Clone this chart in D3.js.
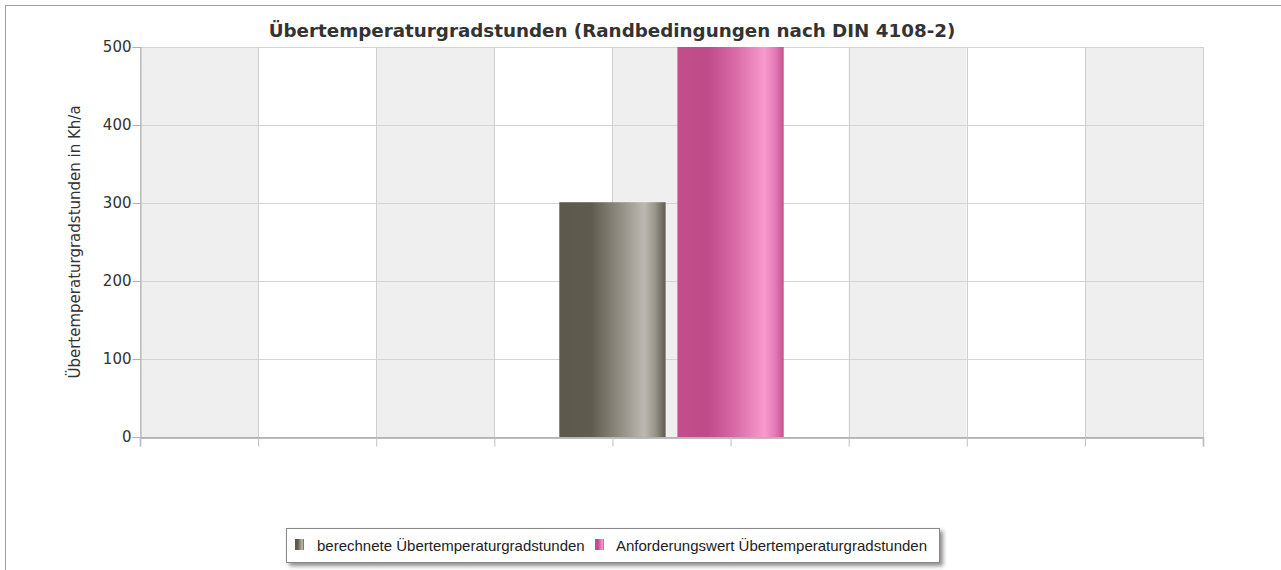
<!DOCTYPE html>
<html><head><meta charset="utf-8">
<script src="https://cdn.jsdelivr.net/npm/d3@7"></script>
<style>html,body{margin:0;padding:0;background:#fff;}svg{display:block;}</style>
</head><body>
<svg id="c" width="1281" height="570"></svg>
<script>
const title = "Übertemperaturgradstunden (Randbedingungen nach DIN 4108-2)";
const yAxisTitle = "Übertemperaturgradstunden in Kh/a";
const xTicks = [0,1,2,3,4,5,6,7,8,9];
const yTicks = [0,100,200,300,400,500];
const seriesNames = ["berechnete Übertemperaturgradstunden","Anforderungswert Übertemperaturgradstunden"];
const seriesX = [4,5];
const seriesValues = [301,500];

const svg = d3.select("#c");
const W=1281,H=570;
const m={l:140,r:78,t:47,b:133};
const x=d3.scaleLinear().domain([0,9]).range([m.l,W-m.r]);
const y=d3.scaleLinear().domain([0,500]).range([H-m.b,m.t]);

const defs=svg.append("defs");
const grads=[
 {id:"g0",stops:[[0,"#5c584b"],[0.3,"#5f5b4e"],[0.55,"#8d897e"],[0.8,"#bdb9b1"],[0.9,"#9a968c"],[1,"#5f5b4e"]]},
 {id:"g1",stops:[[0,"#c24f8c"],[0.28,"#bf4a89"],[0.55,"#d96ba8"],[0.82,"#f99acd"],[0.92,"#e37ab5"],[1,"#c9508f"]]}
];
grads.forEach(g=>{
  const lg=defs.append("linearGradient").attr("id",g.id).attr("x1","0").attr("x2","1").attr("y1","0").attr("y2","0");
  g.stops.forEach(s=>lg.append("stop").attr("offset",s[0]).attr("stop-color",s[1]));
});
const f=defs.append("filter").attr("id","sh").attr("x","-10%").attr("y","-30%").attr("width","130%").attr("height","180%");
f.append("feDropShadow").attr("dx",3).attr("dy",3).attr("stdDeviation",2).attr("flood-color","#000").attr("flood-opacity",0.45);

// outer border
svg.append("line").attr("x1",5.5).attr("x2",5.5).attr("y1",5).attr("y2",H).attr("stroke","#a0a0a0");
svg.append("line").attr("x1",5).attr("x2",W).attr("y1",5.5).attr("y2",5.5).attr("stroke","#a0a0a0");

// alternating bands
svg.append("g").selectAll("rect").data(xTicks.slice(0,-1)).join("rect")
 .attr("x",d=>x(d)).attr("width",d=>x(d+1)-x(d))
 .attr("y",y(500)).attr("height",y(0)-y(500))
 .attr("fill",(d,i)=>i%2===0?"#efefef":"#ffffff");

// grid
svg.append("g").selectAll("line").data(yTicks).join("line")
 .attr("x1",x(0)).attr("x2",x(9)).attr("y1",d=>Math.round(y(d))+0.5).attr("y2",d=>Math.round(y(d))+0.5)
 .attr("stroke","#d4d4d4");
svg.append("g").selectAll("line").data(xTicks).join("line")
 .attr("y1",y(500)).attr("y2",y(0)).attr("x1",d=>Math.round(x(d))+0.5).attr("x2",d=>Math.round(x(d))+0.5)
 .attr("stroke","#cfcfcf");

// bars
const bw=x(0.9)-x(0);
svg.append("g").selectAll("rect").data(seriesValues).join("rect")
 .attr("x",(d,i)=>x(seriesX[i])-bw/2).attr("width",bw)
 .attr("y",d=>y(d)).attr("height",d=>y(0)-y(d))
 .attr("fill",(d,i)=>`url(#g${i})`);

// axes
const ya=d3.axisLeft(y).tickValues(yTicks).tickSize(8).tickPadding(1);
const gy=svg.append("g").attr("transform",`translate(${Math.round(x(0))+0.5},0)`).call(ya);
gy.select(".domain").attr("stroke","#b0b0b0");
gy.selectAll(".tick line").attr("stroke","#b0b0b0");
gy.selectAll(".tick text").attr("font-family","DejaVu Sans").attr("font-size",15).attr("fill","#333");

const xa=d3.axisBottom(x).tickValues(xTicks).tickSize(9).tickFormat("");
const gx=svg.append("g").attr("transform",`translate(0,${Math.round(y(0))+0.5})`).call(xa);
gx.select(".domain").attr("stroke","#a8a8a8").attr("stroke-width",1.5);
gx.selectAll(".tick line").attr("stroke","#c0c0c0");

// title
svg.append("text").attr("x",612).attr("y",37).attr("text-anchor","middle")
 .attr("font-family","DejaVu Sans").attr("font-weight","bold").attr("font-size",18.3).attr("fill","#333").text(title);

// y axis title
svg.append("text").attr("transform",`translate(80,${(y(0)+y(500))/2}) rotate(-90)`).attr("text-anchor","middle")
 .attr("font-family","DejaVu Sans").attr("font-size",15).attr("fill","#333").text(yAxisTitle);

// legend
const lg=svg.append("g");
lg.append("rect").attr("x",286.5).attr("y",528.5).attr("width",653).attr("height",34)
 .attr("fill","#fff").attr("stroke","#888").attr("filter","url(#sh)");
const items=[{x:295,tx:317},{x:595,tx:616}];
seriesNames.forEach((n,i)=>{
  lg.append("rect").attr("x",items[i].x).attr("y",539).attr("width",9).attr("height",11).attr("fill",`url(#g${i})`);
  lg.append("text").attr("x",items[i].tx).attr("y",550.5).attr("font-family","Liberation Sans, Arial").attr("font-size",15).attr("fill","#222").text(n);
});
</script>
</body></html>
